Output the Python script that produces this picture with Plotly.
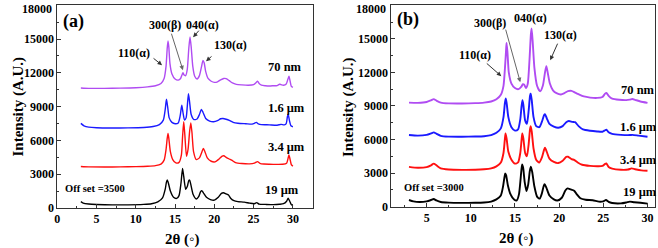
import plotly.graph_objects as go

# ---------------- Panel (a) data (offset 3500) ----------------
a_70nm_x = [3.0, 4.0, 6.0, 8.0, 10.0, 11.5, 12.5, 13.2, 13.6, 13.85, 14.0, 14.1, 14.2, 14.35, 14.6, 15.0, 15.4, 15.7, 15.9, 16.0, 16.15, 16.35, 16.55, 16.75, 16.9, 17.05, 17.25, 17.5, 17.8, 18.1, 18.35, 18.55, 18.7, 18.9, 19.2, 19.6, 20.0, 20.4, 20.8, 21.2, 21.5, 21.9, 22.3, 22.8, 23.5, 24.3, 25.0, 25.3, 25.5, 25.7, 26.0, 26.5, 27.0, 27.5, 28.0, 28.3, 28.5, 28.8, 29.15, 29.35, 29.5, 29.65, 29.8, 30.0]
a_70nm_y = [10650, 10620, 10620, 10640, 10680, 10750, 10850, 11050, 11500, 12600, 14200, 14830, 14300, 12800, 11900, 11450, 11350, 11500, 11850, 12000, 11800, 11750, 12300, 14200, 15190, 14300, 12600, 11700, 11450, 11750, 12500, 13100, 12900, 12100, 11500, 11250, 11150, 11200, 11380, 11500, 11480, 11300, 11100, 10980, 10930, 10900, 10950, 11120, 11260, 11050, 10900, 10850, 10830, 10850, 10870, 10980, 10950, 10900, 11000, 11400, 11700, 11250, 10800, 10700]

a_16um_x = [3.0, 3.4, 4.0, 5.0, 7.0, 9.0, 11.0, 12.2, 13.0, 13.5, 13.75, 13.9, 14.05, 14.25, 14.6, 15.0, 15.4, 15.65, 15.85, 16.0, 16.2, 16.4, 16.55, 16.7, 16.85, 17.05, 17.4, 17.8, 18.1, 18.35, 18.55, 18.9, 19.4, 19.9, 20.4, 20.8, 21.1, 21.5, 21.9, 22.4, 23.0, 24.0, 24.8, 25.1, 25.35, 25.6, 26.0, 27.0, 28.0, 28.5, 28.9, 29.15, 29.3, 29.4, 29.55, 29.75, 30.0]
a_16um_y = [7510, 7300, 7180, 7120, 7100, 7110, 7150, 7230, 7400, 7800, 8800, 9650, 9000, 8000, 7600, 7480, 7550, 8200, 9130, 8500, 7800, 8000, 9000, 10150, 9400, 8300, 7850, 7900, 8300, 8750, 8500, 7950, 7720, 7660, 7750, 7920, 7950, 7880, 7780, 7600, 7520, 7480, 7450, 7520, 7600, 7470, 7400, 7380, 7350, 7420, 7380, 7500, 8100, 8330, 7800, 7300, 7210]

a_34um_x = [3.0, 4.0, 6.0, 8.0, 10.0, 11.5, 12.5, 13.2, 13.6, 13.85, 14.0, 14.1, 14.2, 14.4, 14.7, 15.1, 15.5, 15.8, 15.95, 16.1, 16.25, 16.45, 16.65, 16.85, 17.0, 17.15, 17.35, 17.7, 18.1, 18.4, 18.6, 18.8, 19.1, 19.6, 20.1, 20.6, 21.0, 21.2, 21.5, 21.9, 22.2, 22.7, 23.5, 24.5, 25.1, 25.5, 25.8, 26.3, 27.0, 28.0, 28.7, 29.2, 29.4, 29.5, 29.65, 29.8, 30.0]
a_34um_y = [3680, 3650, 3640, 3650, 3670, 3700, 3760, 3900, 4250, 5200, 6200, 6620, 6200, 5000, 4300, 4000, 4050, 4700, 6300, 7650, 6400, 4600, 5200, 6800, 7550, 6700, 5000, 4300, 4450, 4950, 5290, 5000, 4450, 4150, 4100, 4350, 4600, 4640, 4500, 4350, 4250, 4030, 3950, 3920, 3980, 4120, 3970, 3900, 3880, 3870, 3880, 3980, 4450, 4700, 4300, 3850, 3720]

a_19um_x = [3.0, 3.3, 4.0, 5.0, 7.0, 9.0, 11.0, 12.0, 12.8, 13.4, 13.75, 13.9, 14.0, 14.15, 14.4, 14.8, 15.2, 15.5, 15.75, 15.95, 16.1, 16.35, 16.55, 16.75, 16.85, 17.0, 17.3, 17.7, 18.0, 18.25, 18.4, 18.6, 19.0, 19.5, 20.0, 20.5, 20.9, 21.15, 21.5, 21.8, 22.1, 22.5, 23.0, 23.8, 24.5, 25.1, 25.4, 25.7, 26.5, 27.5, 28.3, 28.8, 29.2, 29.4, 29.6, 29.8, 30.0]
a_19um_y = [560, 430, 350, 310, 280, 280, 320, 380, 550, 900, 1700, 2300, 2480, 2200, 1500, 950, 850, 1100, 2200, 3520, 2800, 1650, 1900, 2450, 2480, 2100, 1200, 800, 1000, 1450, 1540, 1350, 950, 750, 700, 950, 1300, 1360, 1250, 1150, 850, 650, 570, 520, 430, 380, 480, 340, 320, 300, 330, 380, 600, 860, 600, 300, 200]

# ---------------- Panel (b) data (offset 3000) ----------------
b_70nm_x = [3.0, 4.0, 5.0, 5.5, 5.8, 6.1, 6.6, 7.5, 9.0, 10.5, 11.5, 12.3, 12.9, 13.4, 13.7, 13.9, 14.0, 14.05, 14.15, 14.3, 14.6, 15.0, 15.4, 15.7, 15.9, 16.05, 16.25, 16.45, 16.65, 16.8, 16.88, 17.0, 17.2, 17.5, 17.85, 18.15, 18.4, 18.55, 18.7, 18.95, 19.3, 19.7, 20.2, 20.6, 21.0, 21.4, 21.8, 22.2, 22.8, 23.5, 24.3, 24.9, 25.2, 25.35, 25.6, 26.0, 26.8, 27.6, 28.0, 28.3, 28.6, 29.2, 30.0]
b_70nm_y = [9300, 9280, 9350, 9500, 9610, 9480, 9300, 9230, 9220, 9250, 9300, 9400, 9600, 10000, 10800, 12800, 14100, 14640, 13800, 12000, 11000, 10600, 10500, 10700, 10950, 10900, 10600, 11000, 13200, 15400, 15920, 14800, 12400, 10800, 10300, 10800, 12000, 12560, 12000, 11000, 10400, 10150, 10030, 10150, 10330, 10350, 10200, 10050, 9850, 9750, 9720, 9800, 10100, 10170, 9900, 9650, 9550, 9520, 9560, 9620, 9550, 9400, 9280]

b_16um_x = [3.0, 4.0, 5.0, 5.5, 5.8, 6.1, 6.6, 7.5, 9.0, 10.5, 11.5, 12.3, 12.9, 13.4, 13.7, 13.85, 13.95, 14.05, 14.25, 14.6, 15.0, 15.35, 15.6, 15.75, 15.85, 15.95, 16.15, 16.35, 16.55, 16.7, 16.78, 16.9, 17.1, 17.4, 17.75, 18.05, 18.3, 18.4, 18.6, 18.9, 19.4, 19.9, 20.4, 20.8, 21.1, 21.5, 21.8, 22.2, 22.7, 23.5, 24.3, 24.9, 25.2, 25.35, 25.6, 26.0, 27.0, 28.0, 28.3, 29.0, 30.0]
b_16um_y = [6400, 6350, 6420, 6550, 6640, 6520, 6330, 6260, 6250, 6270, 6300, 6400, 6600, 7000, 8000, 9200, 9670, 9300, 8000, 7100, 6800, 6900, 7800, 9000, 9520, 9100, 7700, 7400, 8600, 9900, 10120, 9500, 8000, 7200, 7100, 7600, 8200, 8270, 7900, 7400, 7150, 7050, 7200, 7550, 7650, 7580, 7550, 7200, 6900, 6780, 6720, 6700, 6830, 6880, 6650, 6500, 6420, 6400, 6420, 6350, 6250]

b_34um_x = [3.0, 4.0, 5.0, 5.5, 5.8, 6.1, 6.6, 7.5, 9.0, 10.5, 11.5, 12.3, 12.9, 13.4, 13.7, 13.85, 13.93, 14.05, 14.25, 14.6, 15.0, 15.35, 15.6, 15.75, 15.83, 15.95, 16.15, 16.35, 16.55, 16.7, 16.78, 16.9, 17.1, 17.4, 17.75, 18.05, 18.3, 18.4, 18.6, 18.9, 19.4, 19.9, 20.4, 20.8, 21.0, 21.4, 21.7, 22.1, 22.6, 23.5, 24.3, 24.9, 25.2, 25.35, 25.6, 26.0, 27.0, 27.8, 28.2, 28.6, 29.3, 30.0]
b_34um_y = [3560, 3480, 3540, 3700, 3850, 3700, 3420, 3320, 3290, 3300, 3340, 3420, 3600, 3950, 4800, 6000, 6550, 6100, 4900, 4200, 3850, 3950, 4800, 6000, 6550, 6100, 4800, 4500, 5600, 6900, 7200, 6700, 5200, 4200, 3950, 4400, 5100, 5260, 4900, 4300, 4000, 3900, 4100, 4450, 4460, 4250, 4180, 3950, 3750, 3650, 3620, 3640, 3820, 3860, 3550, 3400, 3300, 3320, 3420, 3350, 3250, 3210]

b_19um_x = [3.0, 3.5, 4.2, 5.0, 5.5, 5.8, 6.1, 6.6, 7.5, 9.0, 10.5, 11.5, 12.3, 12.9, 13.4, 13.65, 13.8, 13.9, 14.0, 14.2, 14.5, 14.9, 15.2, 15.45, 15.65, 15.8, 15.92, 16.1, 16.3, 16.5, 16.68, 16.8, 16.95, 17.2, 17.5, 17.8, 18.05, 18.25, 18.35, 18.55, 18.9, 19.4, 19.8, 20.3, 20.7, 20.95, 21.3, 21.7, 22.0, 22.4, 23.0, 23.8, 24.5, 25.0, 25.3, 25.6, 26.0, 27.0, 27.6, 28.0, 28.5, 29.2, 30.0]
b_19um_y = [600, 480, 420, 480, 600, 690, 560, 420, 360, 340, 350, 380, 460, 650, 1000, 1800, 2600, 2980, 2800, 1900, 1100, 650, 560, 1100, 2600, 3780, 3500, 2200, 1400, 2000, 3200, 3570, 3100, 1800, 900, 720, 1200, 1850, 2000, 1700, 1000, 650, 550, 800, 1450, 1640, 1550, 1430, 1100, 750, 620, 580, 450, 480, 600, 430, 330, 300, 380, 450, 400, 350, 280]

sample_labels = ["70 nm", "1.6 μm", "3.4 μm", "19 μm"]
colors = ["#b04cf2", "#1a1aff", "#ff1010", "#000000"]
y_ticks = [0, 3000, 6000, 9000, 12000, 15000, 18000]
y_ticklabels = ["0", "3000", "6000", "9000", "12000", "15000", "18000"]
x_ticks_a = [0, 5, 10, 15, 20, 25, 30]
x_ticks_b = [5, 10, 15, 20, 25, 30]
peak_labels = ["110(α)", "300(β)", "040(α)", "130(α)"]

W, H = 658, 248
def P(px, py):
    return px / W, 1 - py / H

fig = go.Figure()

series_a = [(a_70nm_x, a_70nm_y), (a_16um_x, a_16um_y), (a_34um_x, a_34um_y), (a_19um_x, a_19um_y)]
series_b = [(b_70nm_x, b_70nm_y), (b_16um_x, b_16um_y), (b_34um_x, b_34um_y), (b_19um_x, b_19um_y)]
for (xs, ys), c, n in zip(series_a, colors, sample_labels):
    fig.add_trace(go.Scatter(x=xs, y=ys, mode="lines", line=dict(color=c, width=1.4, shape="spline", smoothing=0.6),
                             name=n, xaxis="x", yaxis="y", showlegend=False))
for (xs, ys), c, n in zip(series_b, colors, sample_labels):
    fig.add_trace(go.Scatter(x=xs, y=ys, mode="lines", line=dict(color=c, width=1.9, shape="spline", smoothing=0.6),
                             name=n, xaxis="x2", yaxis="y2", showlegend=False))

FONT = "Liberation Serif"
tickfont = dict(family=FONT, size=12, color="black", weight="bold")
def axis(domain, rng, anchor, dtick_minor, **kw):
    d = dict(domain=domain, range=rng, anchor=anchor, automargin=False, ticklabeloverflow="allow",
             showline=True, linecolor="#333", linewidth=1, mirror=True, showgrid=False, zeroline=False,
             ticks="inside", ticklen=4, tickcolor="#333", tickfont=tickfont,
             minor=dict(ticks="inside", ticklen=2, tickcolor="#333", dtick=dtick_minor, tick0=0))
    d.update(kw)
    return d

xa0, ya0 = P(57.3, 208)
xa1, ya1 = P(313.3, 5)
xb0, yb0 = P(391.3, 206.7)
xb1, yb1 = P(655, 5)

# the topmost tick label is drawn as an annotation so it stays fully inside the page
axis_ticktext = y_ticklabels[:-1] + [""]

fig.update_layout(
    width=W, height=H, margin=dict(l=0, r=0, t=0, b=0, pad=0),
    paper_bgcolor="white", plot_bgcolor="white",
    xaxis=axis([xa0, xa1], [0, 32.6], "y", 2.5, tickvals=x_ticks_a),
    yaxis=axis([ya0, ya1], [0, 18020], "x", 1500, tickvals=y_ticks, ticktext=axis_ticktext),
    xaxis2=axis([xb0, xb1], [1.0, 30.85], "y2", 2.5, tickvals=x_ticks_b),
    yaxis2=axis([yb0, yb1], [0, 18020], "x2", 1500, tickvals=y_ticks, ticktext=axis_ticktext),
)

ann = []
def txt(px, py, s, size=12, xanchor="center", yanchor="middle"):
    x, y = P(px, py)
    ann.append(dict(x=x, y=y, xref="paper", yref="paper", text="<b>" + s + "</b>", showarrow=False,
                    font=dict(family=FONT, size=size, color="black"), xanchor=xanchor, yanchor=yanchor))

# top tick labels
txt(54, 0, y_ticklabels[-1], 12, xanchor="right", yanchor="top")
txt(388, 0, y_ticklabels[-1], 12, xanchor="right", yanchor="top")

# axis titles
for cx in (8, 349):
    x, y = P(cx, 107)
    ann.append(dict(x=x, y=y, xref="paper", yref="paper", text="<b>Intensity (A.U.)</b>", showarrow=False,
                    textangle=-90, font=dict(family=FONT, size=15, color="black")))
txt(182, 239, "2θ (◦)", 15)
txt(516, 238, "2θ (◦)", 15)

# panel (a)
txt(73, 21, "(a)", 18)
txt(134, 53, peak_labels[0], 12)
txt(165, 25, peak_labels[1], 12)
txt(202, 25, peak_labels[2], 12)
txt(230, 45, peak_labels[3], 12)
txt(285, 67, sample_labels[0], 12.5)
txt(286, 108, sample_labels[1], 12.5)
txt(286, 147, sample_labels[2], 12.5)
txt(282, 190, sample_labels[3], 12.5)
txt(63, 188, "Off set =3500", 10.5, xanchor="left")

# panel (b)
txt(408, 19, "(b)", 18)
txt(475, 55, peak_labels[0], 12)
txt(490, 23, peak_labels[1], 12)
txt(530, 18, peak_labels[2], 12)
txt(560, 35, peak_labels[3], 12)
txt(638, 90, sample_labels[0], 12.5)
txt(638, 127, sample_labels[1], 12.5)
txt(638, 160, sample_labels[2], 12.5)
txt(640, 192, sample_labels[3], 12.5)
txt(402, 187, "Off set =3000", 10.5, xanchor="left")

def arrow(xref, yref, x, y, ax, ay, color="#333"):
    ann.append(dict(x=x, y=y, xref=xref, yref=yref, ax=ax, ay=ay, text="", showarrow=True,
                    arrowhead=2, arrowsize=0.9, arrowwidth=1, arrowcolor=color))

arrow("x", "y", 13.34, 12680, -10, -8)
arrow("x", "y", 16.0, 12236, -12, -38, "#666")
arrow("x", "y", 17.3, 15163, 7, -8)
arrow("x", "y", 18.94, 13035, 7, -6)
arrow("x2", "y2", 13.45, 11664, -16, -14)
arrow("x2", "y2", 15.6, 11128, -15, -54, "#666")
arrow("x2", "y2", 18.99, 13091, 8, -18)

fig.update_layout(annotations=ann)
fig.write_html("out.html", config={"displayModeBar": False},
               post_script="document.body.style.margin='0px';document.body.style.overflow='hidden';")
